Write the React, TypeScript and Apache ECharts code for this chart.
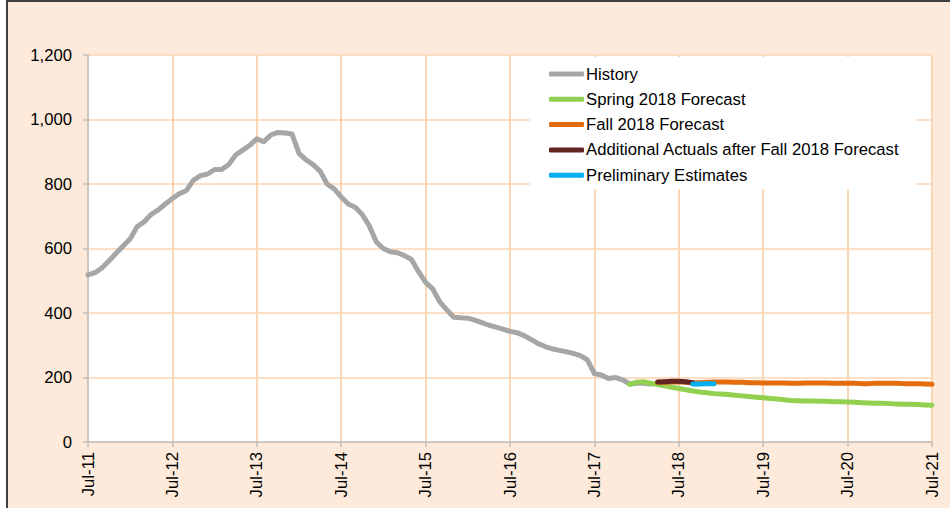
import React, { useEffect, useRef } from "react";
import * as echarts from "echarts";

const monthNames = ["Jan", "Feb", "Mar", "Apr", "May", "Jun", "Jul", "Aug", "Sep", "Oct", "Nov", "Dec"];
// months Jul-11 .. Jul-21
const categories: string[] = [];
for (let y = 2011; y <= 2021; y++) {
  for (let m = 0; m < 12; m++) {
    if (y === 2011 && m < 6) continue;
    if (y === 2021 && m > 6) continue;
    categories.push(monthNames[m] + "-" + String(y).slice(2));
  }
}

const yTicks = [0, 200, 400, 600, 800, 1000, 1200];

const historyStart = 0; // Jul-11
const history = [
  518, 525, 540, 562, 585, 608, 630, 668, 683, 706, 720, 738,
  755, 770, 780, 812, 826, 831, 845, 845, 860, 890, 905, 920,
  940, 931, 952, 960, 958, 955, 895, 875, 860, 840, 800, 785,
  760, 738, 728, 705, 670, 620, 600, 590, 587, 578, 566, 528,
  495, 475, 435, 410, 387, 385, 384, 378, 370, 362, 356, 350,
  343, 339, 330, 318, 305, 296, 289, 284, 280, 275, 268, 255,
  212, 208, 197, 200, 193, 180, 182, 182, 180,
];

const springStart = 77; // Dec-17
const spring2018 = [
  179, 185, 187, 182, 178, 174, 170, 166, 162, 158, 155, 153, 150, 149, 147,
  145, 143, 141, 139, 137, 135, 133, 131, 129, 128, 127, 127, 126, 126, 125,
  125, 124, 123, 122, 121, 120, 120, 119, 118, 117, 117, 116, 115, 114,
];

const fallStart = 81; // Apr-18
const fall2018 = [
  185, 185, 186, 186, 185, 184, 184, 185, 186, 186,
  186, 185, 185, 184, 184, 183, 183, 183, 183, 182,
  182, 183, 183, 183, 183, 182, 182, 182, 182, 181,
  181, 182, 182, 182, 182, 181, 181, 181, 180, 179,
];

const actualsStart = 81; // Apr-18
const additionalActuals = [186, 187, 188, 188, 187, 184];

const prelimStart = 86; // Sep-18
const preliminary = [180, 180, 181, 181];

function place(start: number, vals: number[]) {
  const out: (number | null)[] = categories.map(() => null);
  vals.forEach((v, i) => {
    out[start + i] = v;
  });
  return out;
}

const FONT = "Liberation Sans, Arial, sans-serif";
const FS = 16.7;

export default function App() {
  const ref = useRef<HTMLDivElement>(null);
  useEffect(() => {
    document.body.style.margin = "0";
    if (!ref.current) return;
    const chart = echarts.init(ref.current, null, { renderer: "svg" });
    const mk = (name: string, color: string, data: (number | null)[]) => ({
      name,
      type: "line",
      data,
      symbol: "none",
      showSymbol: false,
      connectNulls: false,
      smooth: false,
      lineStyle: { color, width: 5, cap: "round", join: "round" },
      itemStyle: { color },
      emphasis: { disabled: true },
    });
    chart.setOption({
      animation: false,
      graphic: [
        {
          type: "rect",
          z: -10,
          silent: true,
          shape: { x: 7, y: 1, width: 1000, height: 600 },
          style: { fill: "#FDEADA", stroke: "#404040", lineWidth: 2 },
        },
      ],
      grid: {
        left: 88,
        right: 18,
        top: 55,
        bottom: 66,
        show: true,
        backgroundColor: "#FFFFFF",
        borderWidth: 0,
      },
      legend: {
        orient: "vertical",
        left: 530,
        top: 57,
        backgroundColor: "#FFFFFF",
        padding: [8, 16, 5, 19],
        itemWidth: 35,
        itemHeight: 5,
        itemGap: 7.3,
        icon: "roundRect",
        textStyle: { fontFamily: FONT, fontSize: FS, color: "#000", lineHeight: 18, padding: [0, 0, 0, -3] },
        data: [
          "History",
          "Spring 2018 Forecast",
          "Fall 2018 Forecast",
          "Additional Actuals after Fall 2018 Forecast",
          "Preliminary Estimates",
        ],
      },
      xAxis: {
        type: "category",
        data: categories,
        boundaryGap: false,
        axisLine: { show: true, lineStyle: { color: "#BFBFBF", width: 1.5 } },
        axisTick: { show: true, interval: 11, length: 5, lineStyle: { color: "#BFBFBF", width: 1.5 } },
        axisLabel: {
          interval: 11,
          rotate: 90,
          margin: 10,
          fontFamily: FONT,
          fontSize: FS,
          color: "#000",
        },
        splitLine: { show: true, interval: 11, lineStyle: { color: "#FCD5B5", width: 2 } },
      },
      yAxis: {
        type: "value",
        min: yTicks[0],
        max: yTicks[yTicks.length - 1],
        interval: 200,
        axisLine: { show: true, lineStyle: { color: "#BFBFBF", width: 1.5 } },
        axisTick: { show: true, length: 5, lineStyle: { color: "#BFBFBF", width: 1.5 } },
        axisLabel: {
          margin: 16,
          fontFamily: FONT,
          fontSize: FS,
          color: "#000",
          formatter: (v: number) => v.toLocaleString("en-US"),
        },
        splitLine: { show: true, lineStyle: { color: "#FCD5B5", width: 1.5 } },
      },
      series: [
        mk("History", "#A6A6A6", place(historyStart, history)),
        mk("Spring 2018 Forecast", "#92D050", place(springStart, spring2018)),
        mk("Fall 2018 Forecast", "#E46C0A", place(fallStart, fall2018)),
        mk("Additional Actuals after Fall 2018 Forecast", "#632523", place(actualsStart, additionalActuals)),
        mk("Preliminary Estimates", "#00B0F0", place(prelimStart, preliminary)),
      ],
    });
    return () => chart.dispose();
  }, []);
  return <div ref={ref} style={{ width: 950, height: 508 }} />;
}
